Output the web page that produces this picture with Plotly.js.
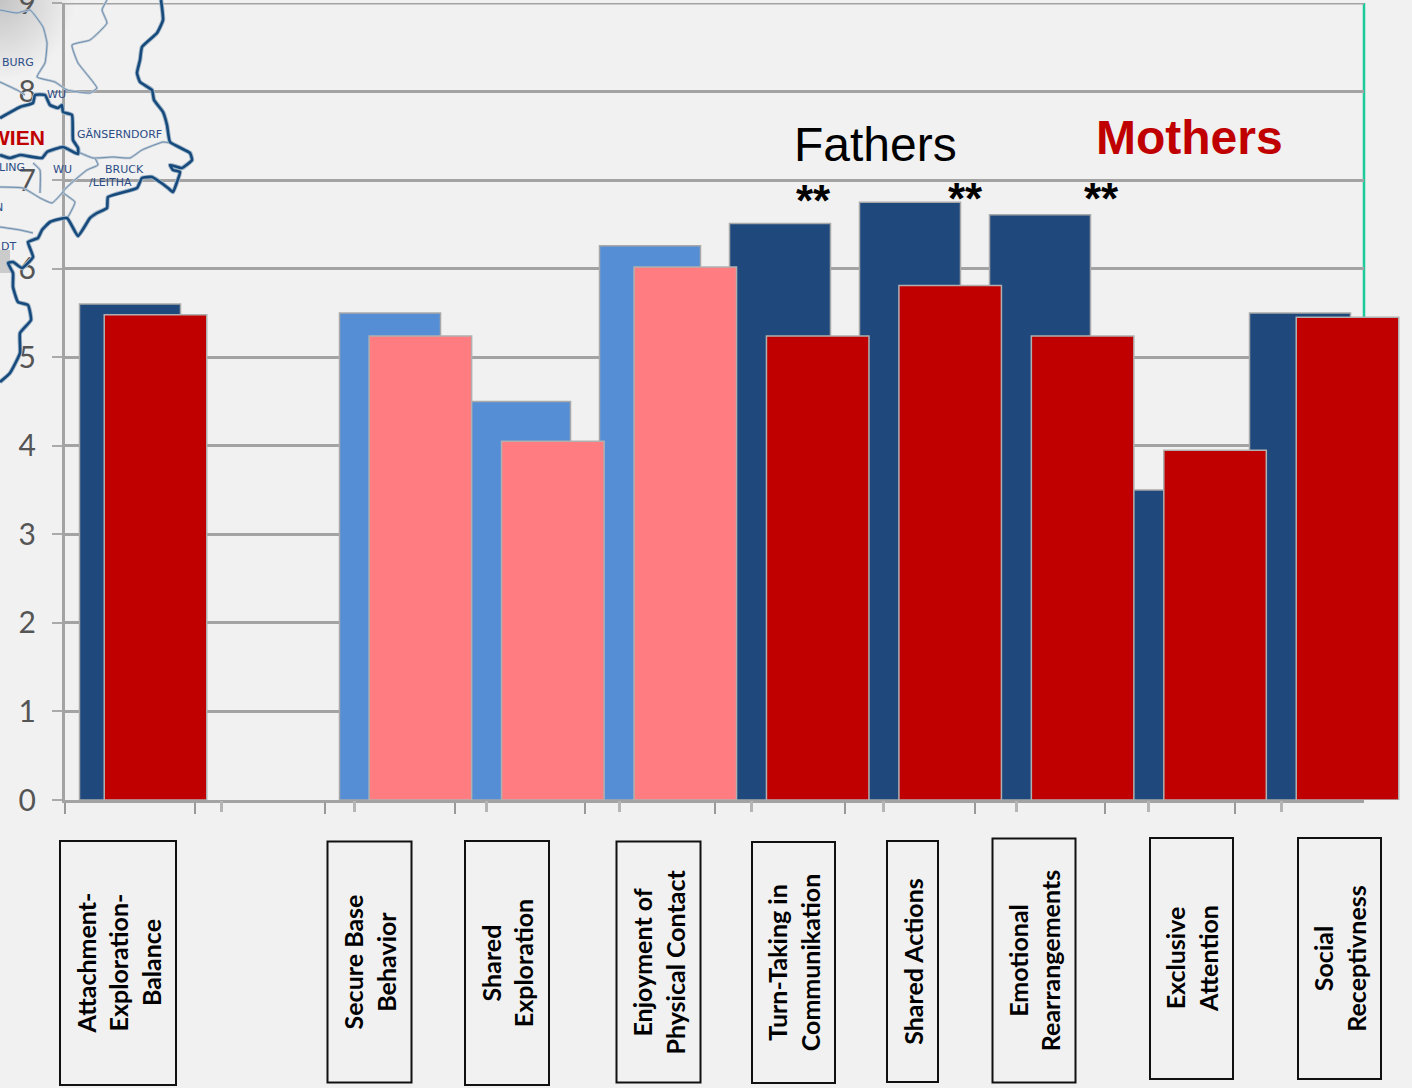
<!DOCTYPE html>
<html><head><meta charset="utf-8">
<script src="https://cdn.plot.ly/plotly-3.0.1.min.js"></script>
<style>
html,body{margin:0;padding:0;width:1412px;height:1088px;overflow:hidden;
background:radial-gradient(ellipse 75px 80px at 0px 0px,#c4c4c4 0%,#dcdcdc 55%,#f1f1f1 100%),#f1f1f1;}
</style></head><body><div id="chart" style="width:1412px;height:1088px"></div>
<script>
const categories = ["Attachment-<br>Exploration-<br>Balance","","Secure Base<br>Behavior","Shared<br>Exploration","Enjoyment of<br>Physical Contact","Turn-Taking in<br>Communikation","Shared Actions","Emotional<br>Rearrangements","Exclusive<br>Attention","Social<br>Receptivness"];
const positions = [1,2,3,4,5,6,7,8,9,10];
const fathers = [5.6,null,5.5,4.5,6.26,6.51,6.75,6.61,3.5,5.5];
const mothers = [5.48,null,5.24,4.05,6.02,5.24,5.81,5.24,3.95,5.45];
const fatherColors = ["#1f497d","#1f497d","#558ed5","#558ed5","#558ed5","#1f497d","#1f497d","#1f497d","#1f497d","#1f497d"];
const motherColors = ["#c00000","#c00000","#ff7c80","#ff7c80","#ff7c80","#c00000","#c00000","#c00000","#c00000","#c00000"];
const yTicks = [0,1,2,3,4,5,6,7,8,9];

// Backdrop map outlines, read in picture pixels
const borderX = [161,163,157,142,140,137,140,152,154,163,167,170,190,192,182,170,173,180,177,173,168,160,152,142,137,108,107,97,90,78,67,50,42,38,28,33,22,13,8,13,13,18,28,31,20,20,10,0];
const borderY = [0,20,33,47,60,73,82,90,100,112,125,142,153,160,168,165,170,172,182,192,188,182,177,178,188,197,208,213,218,236,218,222,230,238,242,257,268,262,263,273,287,302,305,320,333,353,373,382];
const wienX = [0,20,33,35,45,50,58,62,63,72,73,78,78,63,47,42,20,10,0];
const wienY = [118,107,103,95,95,105,108,105,112,115,140,148,154,147,152,158,155,158,155];
const thinAX = [107,102,107,90,72,78,97,90,67,55,37,45,47,43,30,17,0];
const thinAY = [0,10,23,40,45,63,88,93,90,82,77,63,43,27,10,13,10];
const thinBX = [78,93,113,130,142,163,170];
const thinBY = [152,158,157,158,150,142,143];
const thinCX = [95,98,87,63,75,68];
const thinCY = [158,165,170,192,202,217];
const thinDX = [63,52,40,23,0];
const thinDY = [192,203,198,188,187];
const thinEX = [33,40,40];
const thinEY = [163,170,193];
const thinFX = [0,20,33];
const thinFY = [227,230,233];
const thinGX = [0,17,25];
const thinGY = [82,90,95];
const mapLabels = [
 {t:"BURG",x:36,y:62,a:"right"},{t:"WU",x:56,y:94,a:"center"},{t:"GÄNSERNDORF",x:119,y:134,a:"center"},
 {t:"LING",x:27,y:168,a:"right"},{t:"WU",x:63,y:169,a:"center"},{t:"BRUCK",x:124,y:169,a:"center"},
 {t:"/LEITHA",x:110,y:182,a:"center"},{t:"N",x:5,y:207,a:"right"},{t:"DT",x:18,y:247,a:"right"}];

const boxes = [[59,176,841,1086],null,[327,412,841,1083],[464,549,841,1086],[616,701,841,1083],[751,835,841,1083],[886,938,841,1083],[992,1076,838,1083],[1149,1233,838,1080],[1297,1381,838,1080]];
const stars = [[813,193],[965,191],[1101,191]];

const W=1412,L=65,R=1364,T=3,B=800;
const px = x => x/W;
const py = y => (B-y)/B;

function mapLine(xs,ys,w,c){return {type:"scatter",mode:"lines",x:xs,y:ys,xaxis:"x3",yaxis:"y3",cliponaxis:false,
  line:{color:c,width:w,shape:"spline",smoothing:0.4},hoverinfo:"skip",showlegend:false};}

const traces = [
 {type:"bar",name:"Fathers",x:positions,y:fathers,width:0.777,xaxis:"x",yaxis:"y",cliponaxis:false,
  marker:{color:fatherColors,line:{color:"#a9a9a9",width:1.5}},showlegend:false},
 {type:"bar",name:"Mothers",x:positions,y:mothers,width:0.774,xaxis:"x2",yaxis:"y2",cliponaxis:false,
  marker:{color:motherColors,line:{color:"#b0b0b0",width:1.5}},showlegend:false},
];
[[thinAX,thinAY],[thinBX,thinBY],[thinCX,thinCY],[thinDX,thinDY],[thinEX,thinEY],[thinFX,thinFY],[thinGX,thinGY]].forEach(p=>{
  traces.push(mapLine(p[0],p[1],2.5,"#b9c6d2"));
  traces.push(mapLine(p[0],p[1],1,"#6f8fb0"));
});
[[borderX,borderY],[wienX,wienY]].forEach(p=>{
  traces.push(mapLine(p[0],p[1],4.5,"#9fb4c6"));
  traces.push(mapLine(p[0],p[1],2.6,"#174a7c"));
});

const annotations = [];
const base = {xref:"paper",yref:"paper",showarrow:false};
categories.forEach((c,i)=>{
  const b=boxes[i]; if(!b) return;
  annotations.push({...base,text:c,x:px((b[0]+b[1])/2),y:py((b[2]+b[3])/2),xanchor:"center",yanchor:"middle",
    textangle:-90,width:b[3]-b[2]-5,height:b[1]-b[0]-5,bordercolor:"#111",borderwidth:2,align:"center",valign:"middle",
    font:{family:"Lato",size:25,color:"#000",weight:700}});
});
annotations.push({...base,text:"Fathers",x:px(875),y:py(144),xanchor:"center",yanchor:"middle",font:{family:"Liberation Sans",size:48,color:"#000"}});
annotations.push({...base,text:"<b>Mothers</b>",x:px(1189),y:py(137),xanchor:"center",yanchor:"middle",font:{family:"Liberation Sans",size:48,color:"#c00000"}});
stars.forEach(s=>annotations.push({...base,text:"<b>**</b>",x:px(s[0]),y:py(s[1]+7),xanchor:"center",yanchor:"middle",font:{family:"Liberation Sans",size:44,color:"#000"}}));
mapLabels.forEach(m=>annotations.push({...base,text:m.t,x:px(m.x),y:py(m.y),xanchor:m.a,yanchor:"middle",
  font:{family:"DejaVu Sans",size:11,color:"#2b4c86"}}));
annotations.push({...base,text:"<b>WIEN</b>",x:px(47),y:py(137),xanchor:"right",yanchor:"middle",font:{family:"Liberation Sans",size:21,color:"#c00000"}});

const gridC="#a3a3a3";
const yDomain=[0,(B-T)/B];
const layout = {
  width:W,height:1088,paper_bgcolor:"rgba(0,0,0,0)",plot_bgcolor:"rgba(0,0,0,0)",
  margin:{l:0,r:0,t:0,b:1088-B,pad:0},barmode:"overlay",showlegend:false,
  xaxis:{domain:[L/W,R/W],range:[0.5,10.4923],tickmode:"array",tickvals:[0.5,1.5,2.5,3.5,4.5,5.5,6.5,7.5,8.5,9.5],ticktext:Array(10).fill(""),
    ticks:"outside",ticklen:11,tickwidth:1.5,tickcolor:"#999",showgrid:false,zeroline:false,showline:true,linecolor:gridC,linewidth:3,anchor:"y"},
  yaxis:{domain:yDomain,range:[0,9],tickmode:"array",tickvals:yTicks,ticks:"outside",ticklen:10,tickwidth:2,tickcolor:"#aaa",
    ticklabelstandoff:10,ticklabeloverflow:"allow",tickfont:{family:"Lato",size:30,color:"#555"},
    showgrid:true,gridcolor:gridC,gridwidth:3,zeroline:false,showline:true,linecolor:gridC,linewidth:3,anchor:"x"},
  xaxis2:{domain:[0,1],range:[-0.174,10.487],tickmode:"array",tickvals:[1.5,2.5,3.5,4.5,5.5,6.5,7.5,8.5,9.5],ticktext:Array(9).fill(""),
    ticks:"outside",ticklen:11,tickwidth:3,tickcolor:"#b5b5b5",showgrid:false,zeroline:false,showline:false,anchor:"y2"},
  yaxis2:{domain:yDomain,range:[0,9],visible:false,anchor:"x2"},
  xaxis3:{domain:[0,1],range:[0,W],visible:false,anchor:"y3"},
  yaxis3:{domain:[0,1],range:[B,0],visible:false,anchor:"x3"},
  shapes:[
    {type:"line",xref:"paper",yref:"paper",x0:R/W,x1:R/W,y0:0,y1:py(T),layer:"below",line:{color:"#1ccb9c",width:2.5}},
    {type:"line",xref:"paper",yref:"y",x0:L/W,x1:R/W,y0:9,y1:9,layer:"below",line:{color:gridC,width:3}},
    {type:"rect",xref:"paper",yref:"paper",x0:0,x1:px(10),y0:py(273),y1:py(250),layer:"below",fillcolor:"#cbcbcb",line:{width:0}}
  ],
  annotations
};
Plotly.newPlot("chart",traces,layout,{displayModeBar:false,staticPlot:true});
</script></body></html>
